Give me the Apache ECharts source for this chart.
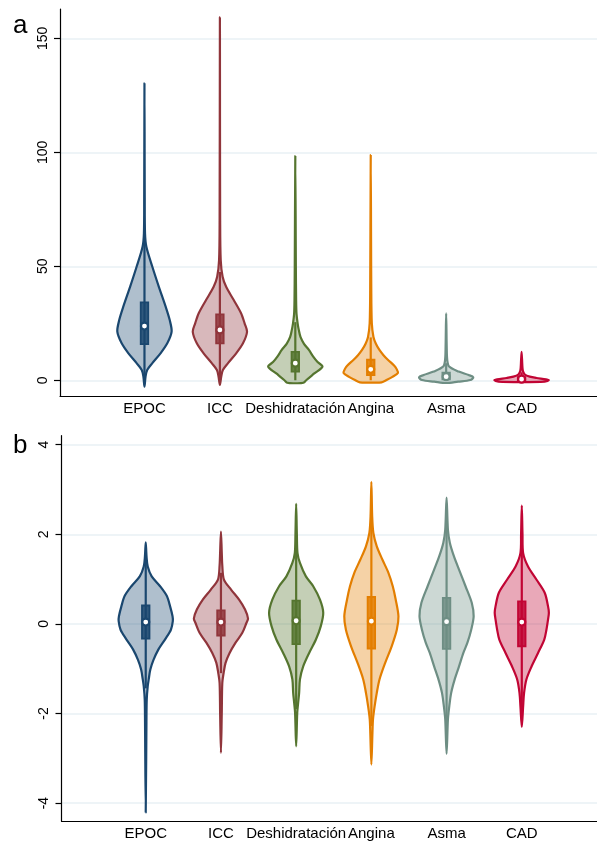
<!DOCTYPE html>
<html><head><meta charset="utf-8">
<script src="https://cdn.jsdelivr.net/npm/echarts@6/dist/echarts.min.js"></script>
<style>html,body{margin:0;padding:0;background:#fff}#c{width:597px;height:841px}</style>
</head><body><div id="c"></div>
<script>
const categories = ['EPOC', 'ICC', 'Deshidratación', 'Angina', 'Asma', 'CAD'];
const colors = ['#1a476f', '#90353b', '#55752f', '#e37e00', '#6e8e84', '#c10534'];
const yTicksA = [0, 50, 100, 150];
const yTicksB = [-4, -2, 0, 2, 4];

// Panel a: density profiles [value, relative density]
const densA_EPOC = [[-2.8,0],[1.6,0.04],[4.5,0.10],[7.5,0.29],[11.8,0.59],[16.2,0.84],[21.3,1.0],[26.4,0.93],[32.3,0.78],[41,0.53],[49.8,0.29],[58.6,0.07],[64.5,0.02],[80,0.01],[130.3,0]];
const densA_ICC = [[-2,0],[1.6,0.05],[4.5,0.11],[7.5,0.30],[11.8,0.60],[16.2,0.85],[21.3,1.0],[25,0.91],[29.4,0.78],[35.2,0.51],[41,0.23],[45.4,0.10],[52.8,0.03],[70,0.01],[159.2,0]];
const densA_Desh = [[-1.3,0],[-1.1,0.30],[0,0.40],[3,0.70],[6,1.0],[8,0.82],[10.4,0.66],[13.3,0.50],[16,0.32],[19,0.19],[22,0.13],[25,0.085],[29,0.045],[35,0.03],[50,0.02],[98.4,0]];
const densA_Angina = [[-1.0,0],[-0.9,0.40],[0.2,0.60],[1.5,0.80],[3.2,1.0],[5,0.95],[6.5,0.86],[9,0.63],[11,0.47],[13.3,0.32],[16,0.19],[19,0.10],[25,0.04],[40,0.02],[98.8,0]];
const densA_Asma = [[-1.2,0],[-0.6,0.44],[0.1,0.89],[1.3,1.0],[2.3,0.83],[3.8,0.46],[6,0.11],[8.9,0.04],[15,0.02],[29.4,0]];
const densA_CAD = [[-0.8,0],[-0.6,0.85],[0,1.0],[0.4,0.9],[1.0,0.55],[1.6,0.30],[2.5,0.12],[4,0.05],[6,0.03],[12.5,0]];
const q1A = [15.9, 16.2, 3.8, 2.3, 0.4, 0];
const medianA = [23.8, 22.1, 7.5, 4.8, 1.6, 0.5];
const q3A = [34.2, 28.9, 12.5, 9.0, 3.3, 1.4];
const whiskerLowA = [0, 0.5, 0, 0, 0, 0];
const whiskerHighA = [61, 47.5, 25.5, 18.8, 7.5, 3.5];

// Panel b: density profiles [value, relative density]
const densB_EPOC = [[-4.21,0],[-2.2,0.026],[-1.69,0.037],[-1.39,0.074],[-1.24,0.11],[-1.02,0.17],[-0.8,0.29],[-0.57,0.47],[-0.35,0.71],[-0.13,0.93],[0.06,1.0],[0.17,0.99],[0.39,0.90],[0.62,0.78],[0.84,0.53],[1.06,0.22],[1.28,0.074],[1.5,0.03],[1.82,0]];
const densB_ICC = [[-2.88,0],[-2.0,0.03],[-1.32,0.05],[-1.09,0.10],[-0.87,0.17],[-0.65,0.32],[-0.42,0.54],[-0.2,0.79],[0.02,0.94],[0.12,1.0],[0.32,0.89],[0.54,0.67],[0.76,0.38],[0.99,0.11],[1.3,0.05],[1.6,0.03],[2.06,0]];
const densB_Desh = [[-2.73,0],[-1.98,0.04],[-1.76,0.074],[-1.54,0.11],[-1.24,0.14],[-0.95,0.26],[-0.65,0.48],[-0.35,0.73],[-0.05,0.91],[0.25,1.0],[0.54,0.88],[0.84,0.63],[1.06,0.36],[1.36,0.14],[1.58,0.05],[2.0,0.026],[2.68,0]];
const densB_Angina = [[-3.14,0],[-2.43,0.04],[-2.13,0.06],[-1.84,0.12],[-1.54,0.20],[-1.24,0.30],[-0.87,0.51],[-0.5,0.75],[-0.13,0.94],[0.17,1.0],[0.54,0.90],[0.84,0.79],[1.14,0.63],[1.43,0.41],[1.73,0.20],[2.03,0.074],[2.4,0.03],[3.17,0]];
const densB_Asma = [[-2.9,0],[-2.13,0.05],[-1.84,0.10],[-1.54,0.17],[-1.24,0.30],[-0.95,0.46],[-0.65,0.62],[-0.42,0.77],[-0.13,0.91],[0.17,1.0],[0.47,0.93],[0.84,0.70],[1.21,0.46],[1.51,0.27],[1.81,0.12],[2.1,0.05],[2.82,0]];
const densB_CAD = [[-2.3,0],[-1.84,0.05],[-1.54,0.085],[-1.24,0.17],[-0.95,0.36],[-0.65,0.60],[-0.35,0.83],[-0.13,0.91],[0.1,0.97],[0.25,1.0],[0.39,0.97],[0.69,0.85],[0.99,0.54],[1.28,0.23],[1.58,0.05],[2.0,0.026],[2.64,0]];
const q1B = [-0.33, -0.26, -0.45, -0.55, -0.56, -0.5];
const medianB = [0.04, 0.04, 0.07, 0.06, 0.05, 0.04];
const q3B = [0.41, 0.30, 0.52, 0.60, 0.58, 0.50];
const whiskerLowB = [-1.44, -1.10, -1.90, -2.28, -2.27, -2.0];
const whiskerHighB = [1.52, 1.14, 1.97, 2.33, 2.29, 2.0];

const densA = [densA_EPOC, densA_ICC, densA_Desh, densA_Angina, densA_Asma, densA_CAD];
const densB = [densB_EPOC, densB_ICC, densB_Desh, densB_Angina, densB_Asma, densB_CAD];

const FONT = '"Liberation Sans", Arial, sans-serif';
const MAXHW = 0.36; // half-width (x units) at relative density 1

function rgba(hex, a) {
  const n = parseInt(hex.slice(1), 16);
  return 'rgba(' + (n >> 16 & 255) + ',' + (n >> 8 & 255) + ',' + (n & 255) + ',' + a + ')';
}

function violinSeries(idx, dens, q1, med, q3, lo, hi) {
  return {
    type: 'custom', xAxisIndex: idx, yAxisIndex: idx, clip: false,
    data: categories.map((c, i) => [i + 1, med[i]]),
    renderItem(params, api) {
      const i = params.dataIndex;
      const x = api.value(0);
      const col = colors[i];
      const d = dens[i];
      const right = d.map(p => api.coord([x + p[1] * MAXHW, p[0]]));
      const left = d.slice().reverse().map(p => api.coord([x - p[1] * MAXHW, p[0]]));
      const pts = right.concat(left.slice(1, left.length - 1));
      const cx = api.coord([x, 0])[0];
      const yTop = api.coord([x, q3[i]])[1];
      const yBot = api.coord([x, q1[i]])[1];
      const yMed = api.coord([x, med[i]])[1];
      const yLo = api.coord([x, lo[i]])[1];
      const yHi = api.coord([x, hi[i]])[1];
      const bw = 7.5;
      return {
        type: 'group',
        children: [
          { type: 'polygon', shape: { points: pts, smooth: 0.3 },
            style: { fill: rgba(col, 0.35), stroke: col, lineWidth: 2.2, lineJoin: 'round' } },
          { type: 'line', shape: { x1: cx, y1: yLo, x2: cx, y2: yHi },
            style: { stroke: col, lineWidth: 2.2 } },
          { type: 'rect', shape: { x: cx - bw / 2, y: yTop, width: bw, height: yBot - yTop },
            style: { fill: rgba(col, 0.85), stroke: col, lineWidth: 1.8 } },
          { type: 'circle', shape: { cx: cx, cy: yMed, r: 3.5 },
            style: { fill: '#fff', stroke: col, lineWidth: 2.2 } }
        ]
      };
    }
  };
}

function xAxisCfg(idx) {
  return {
    type: 'value', gridIndex: idx, min: -0.12, max: 7.0,
    axisLine: { show: true, onZero: false, lineStyle: { color: '#000', width: 1.2 } },
    axisTick: { show: false, customValues: [1, 2, 3, 4, 5, 6] },
    splitLine: { show: false },
    axisLabel: { customValues: [1, 2, 3, 4, 5, 6], formatter: v => categories[Math.round(v) - 1] || '',
      color: '#000', fontSize: 15, fontFamily: FONT, margin: 5 }
  };
}
function yAxisCfg(idx, min, max, ticks) {
  return {
    type: 'value', gridIndex: idx, min: min, max: max,
    axisLine: { show: true, onZero: false, lineStyle: { color: '#000', width: 1.2 } },
    axisTick: { show: true, length: 6, customValues: ticks, lineStyle: { color: '#000', width: 1.2 } },
    splitLine: { show: true, lineStyle: { color: '#e8f1f4', width: 1.5 } },
    axisLabel: { customValues: ticks, rotate: 90, color: '#000', fontSize: 14, fontFamily: FONT, margin: 10 }
  };
}

const chart = echarts.init(document.getElementById('c'), null, { renderer: 'canvas' });
chart.setOption({
  backgroundColor: '#fff',
  animation: false,
  grid: [
    { left: 60, right: 0, top: 9, bottom: 445 },
    { left: 61.5, right: 0, top: 435.7, bottom: 19 }
  ],
  xAxis: [xAxisCfg(0), xAxisCfg(1)],
  yAxis: [yAxisCfg(0, -6.9, 162.9, yTicksA), yAxisCfg(1, -4.4, 4.2, yTicksB)],
  graphic: [
    { type: 'text', left: 13, top: 13, style: { text: 'a', fontSize: 26, fontFamily: FONT, fill: '#000' } },
    { type: 'text', left: 13, top: 433, style: { text: 'b', fontSize: 26, fontFamily: FONT, fill: '#000' } }
  ],
  series: [
    violinSeries(0, densA, q1A, medianA, q3A, whiskerLowA, whiskerHighA),
    violinSeries(1, densB, q1B, medianB, q3B, whiskerLowB, whiskerHighB)
  ]
});
</script></body></html>
